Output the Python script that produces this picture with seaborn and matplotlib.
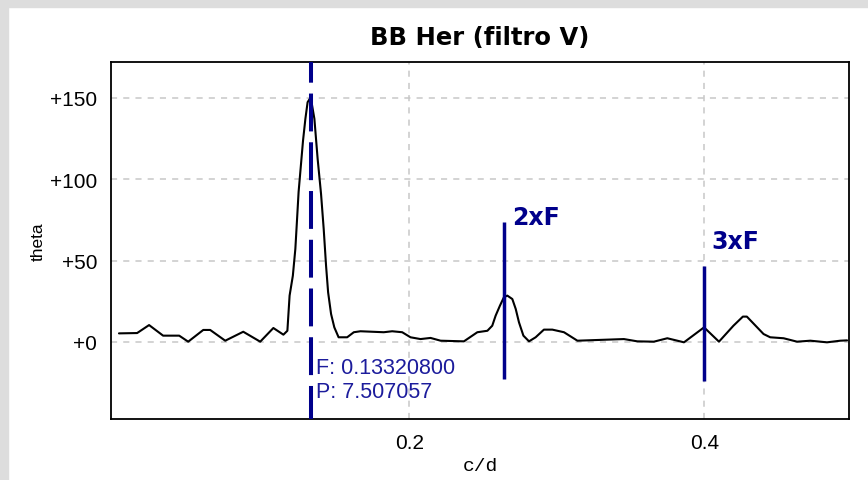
import seaborn as sns
import matplotlib.pyplot as plt
from matplotlib.patches import Rectangle

# periodogram (frequency in c/d, theta)
freq = [0.0034, 0.0157, 0.0238, 0.0333, 0.0442, 0.0503, 0.0605, 0.0652, 0.0754,
        0.0876, 0.0991, 0.1080, 0.1148, 0.1175, 0.1190, 0.1212, 0.1229, 0.1240,
        0.1251, 0.1281, 0.1297, 0.1312, 0.1333, 0.1358, 0.1380, 0.1403, 0.1421,
        0.1437, 0.1451, 0.1471, 0.1493, 0.1522, 0.1580, 0.1625, 0.1670, 0.1828,
        0.1885, 0.1953, 0.2009, 0.2077, 0.2145, 0.2213, 0.2371, 0.2462, 0.2530,
        0.2563, 0.2586, 0.2615, 0.2642, 0.2665, 0.2699, 0.2722, 0.2744, 0.2774,
        0.2812, 0.2857, 0.2913, 0.2970, 0.3049, 0.3140, 0.3455, 0.3546, 0.3658,
        0.3749, 0.3817, 0.3862, 0.3998, 0.4099, 0.4197, 0.4261, 0.4288, 0.4401,
        0.4446, 0.4537, 0.4628, 0.4718, 0.4831, 0.4921, 0.4967]
theta = [5.3, 5.5, 10.4, 3.9, 3.9, 0.2, 7.4, 7.4, 0.8,
         6.3, 0.2, 8.6, 4.5, 6.9, 28.5, 40.7, 57.2, 74.6,
         92.2, 123.7, 137.1, 147.3, 150.3, 137.1, 112.5, 91.0, 69.5,
         46.9, 30.5, 17.2, 9.0, 2.9, 2.9, 6.0, 6.6, 6.0,
         6.6, 6.0, 2.9, 1.8, 2.5, 0.8, 0.4, 6.0, 6.9,
         10.0, 16.2, 22.3, 27.5, 28.5, 26.4, 20.3, 12.1, 3.9,
         0.4, 2.9, 7.6, 7.6, 6.0, 0.8, 1.8, 0.4, 0.2,
         2.3, 0.8, -0.2, 9.0, 0.2, 10.0, 15.6, 15.6, 4.9,
         2.9, 2.3, 0.2, 0.8, -0.2, 0.8, 1.0]

f0 = 0.133208
period = 7.507057
harm_x = [0.2645, 0.3995]
harm_top = [73.7, 46.7]
harm_bottom = [-22.7, -24.0]
harm_labels = ['2xF', '3xF']
harm_label_y = [76.8, 62.3]

yticks = [0, 50, 100, 150]
ytick_labels = ['+0', '+50', '+100', '+150']
xticks = [0.2, 0.4]
xtick_labels = ['0.2', '0.4']

navy = '#00008b'

sns.set_theme(style='white')
plt.rcParams['font.family'] = ['Liberation Sans', 'DejaVu Sans']
plt.rcParams['text.color'] = 'black'
plt.rcParams['axes.labelcolor'] = 'black'

fig = plt.figure(figsize=(8.68, 4.81), dpi=100)
fig.patch.set_facecolor('white')
fig.add_artist(Rectangle((0, 1 - 8 / 481), 1, 8 / 481, transform=fig.transFigure,
                         color='#dddddd', zorder=0))
fig.add_artist(Rectangle((0, 0), 8 / 868, 1, transform=fig.transFigure,
                         color='#dddddd', zorder=0))

ax = fig.add_axes([111 / 868, 61 / 481, 738 / 868, 357 / 481])

sns.lineplot(x=freq, y=theta, ax=ax, color='black', linewidth=1.5,
             estimator=None, sort=False, zorder=3)

ax.set_xlim(-0.002, 0.498)
ax.set_ylim(-47.3, 172)

# dashed line at the main frequency
ax.axvline(f0, color=navy, linewidth=2.9, linestyle=(1.2, (9.4, 2.7)), zorder=4)
ax.text(f0 + 0.0035, -15.4, f'F: {f0:.8f}', color='#1c1c9c', fontsize=15.5,
        va='center', ha='left', zorder=5)
ax.text(f0 + 0.0035, -30.1, f'P: {period:.6f}', color='#1c1c9c', fontsize=15.5,
        va='center', ha='left', zorder=5)

# harmonics
ax.vlines(harm_x, harm_bottom, harm_top, color=navy, linewidth=2.5, zorder=4)
for x, y, lab in zip(harm_x, harm_label_y, harm_labels):
    ax.text(x + 0.005, y, lab, color=navy, fontsize=17, fontweight='bold',
            family='DejaVu Sans', va='center', ha='left', zorder=5)

ax.set_yticks(yticks)
ax.set_yticklabels(ytick_labels)
ax.set_xticks(xticks)
ax.set_xticklabels(xtick_labels)
ax.tick_params(length=0, labelsize=15, colors='black', pad=10)
ax.grid(True, color='#c8c8c8', linestyle=(0, (4, 4)), linewidth=1.1)

for s in ax.spines.values():
    s.set_color('black')
    s.set_linewidth(1.3)

ax.set_title('BB Her (filtro V)', fontsize=17.5, fontweight='bold',
             family='DejaVu Sans', color='black', pad=13)
ax.set_ylabel('theta', fontsize=12.5)
ax.yaxis.set_label_coords(-0.089, 0.5)
ax.set_xlabel('c/d', fontsize=14, family='Liberation Mono', labelpad=4)

fig.savefig('out.png', dpi=100)
